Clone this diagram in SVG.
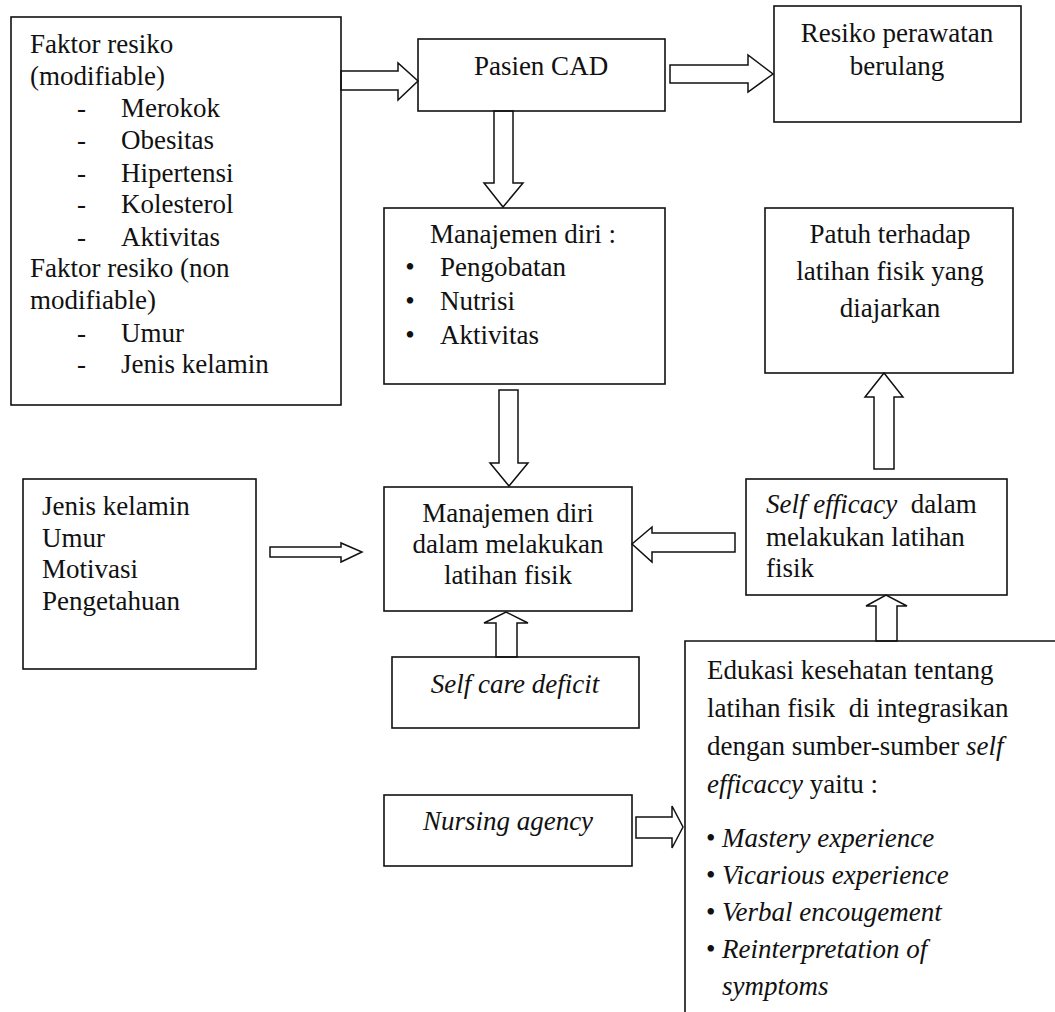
<svg xmlns="http://www.w3.org/2000/svg" width="1055" height="1012" viewBox="0 0 1055 1012">
<style>
.box{fill:none;stroke:#111;stroke-width:1.6}
.arr{fill:none;stroke:#111;stroke-width:1.5;stroke-linejoin:miter}
text{font-family:"Liberation Serif","Times New Roman",serif;font-size:27px;fill:#111}
.c{text-anchor:middle}
.i{font-style:italic}
</style>
<rect x="0" y="0" width="1055" height="1012" fill="#fff"/>
<g id="connectors">
<polygon class="arr" points="341,71 398,71 398,63 418,81 398,100 398,90 341,90"/>
<polygon class="arr" points="670,65 748,65 748,55 773,74 748,92 748,83 670,83"/>
<polygon class="arr" points="494,111 513,111 513,183 523,183 503,207 484,183 494,183"/>
<polygon class="arr" points="499,390 518,390 518,463 528,463 509,486 490,463 499,463"/>
<polygon class="arr" points="496,657 496,623 484,623 506,612 528,623 517,623 517,657"/>
<polygon class="arr" points="735,533 652,533 652,527 632,544 652,562 652,552 735,552"/>
<polygon class="arr" points="874,469 874,397 865,397 884,373 903,397 894,397 894,469"/>
<polygon class="arr" points="876,641 876,606 866,606 886,595 907,606 897,606 897,641"/>
<polygon class="arr" points="270,547 341,547 341,543 362,552 341,562 341,557 270,557"/>
<polygon class="arr" points="636,817 672,817 672,806 683,827 672,848 672,838 636,838"/>
</g>
<g id="faktor">
<rect class="box" x="11" y="17" width="330" height="388"/>
<text x="30" y="53">Faktor resiko</text>
<text x="30" y="85">(modifiable)</text>
<text x="77" y="117">-</text><text x="121" y="117">Merokok</text>
<text x="77" y="149">-</text><text x="121" y="149">Obesitas</text>
<text x="77" y="182">-</text><text x="121" y="182">Hipertensi</text>
<text x="77" y="213">-</text><text x="121" y="213">Kolesterol</text>
<text x="77" y="246">-</text><text x="121" y="246">Aktivitas</text>
<text x="30" y="277">Faktor resiko (non</text>
<text x="30" y="309">modifiable)</text>
<text x="77" y="342">-</text><text x="121" y="342">Umur</text>
<text x="77" y="373">-</text><text x="121" y="373">Jenis kelamin</text>
</g>
<g id="pasien">
<rect class="box" x="418" y="39" width="247" height="72"/>
<text class="c" x="541" y="75">Pasien CAD</text>
</g>
<g id="resiko">
<rect class="box" x="774" y="6" width="247" height="116"/>
<text class="c" x="897" y="42">Resiko perawatan</text>
<text class="c" x="897" y="75">berulang</text>
</g>
<g id="manajemen">
<rect class="box" x="384" y="208" width="281" height="176"/>
<text x="430" y="243">Manajemen diri :</text>
<text class="c" x="410" y="276">•</text><text x="440" y="276">Pengobatan</text>
<text class="c" x="410" y="310">•</text><text x="440" y="310">Nutrisi</text>
<text class="c" x="410" y="344">•</text><text x="440" y="344">Aktivitas</text>
</g>
<g id="patuh">
<rect class="box" x="765" y="208" width="248" height="165"/>
<text class="c" x="890" y="243">Patuh terhadap</text>
<text class="c" x="890" y="280">latihan fisik yang</text>
<text class="c" x="890" y="317">diajarkan</text>
</g>
<g id="faktor-lain">
<rect class="box" x="23" y="479" width="233" height="190"/>
<text x="42" y="515">Jenis kelamin</text>
<text x="42" y="547">Umur</text>
<text x="42" y="578">Motivasi</text>
<text x="42" y="610">Pengetahuan</text>
</g>
<g id="latihan">
<rect class="box" x="384" y="487" width="248" height="124"/>
<text class="c" x="508" y="522">Manajemen diri</text>
<text class="c" x="508" y="553">dalam melakukan</text>
<text class="c" x="508" y="584">latihan fisik</text>
</g>
<g id="self-efficacy">
<rect class="box" x="746" y="479" width="261" height="116"/>
<text x="766" y="513"><tspan class="i">Self efficacy</tspan>&#160; dalam</text>
<text x="766" y="546">melakukan latihan</text>
<text x="766" y="577">fisik</text>
</g>
<g id="self-care">
<rect class="box" x="392" y="657" width="247" height="71"/>
<text class="c i" x="515" y="693">Self care deficit</text>
</g>
<g id="nursing">
<rect class="box" x="384" y="795" width="248" height="71"/>
<text class="c i" x="508" y="830">Nursing agency</text>
</g>
<g id="edukasi">
<path class="box" d="M1055,641 H685 V1012"/>
<text x="707" y="679">Edukasi kesehatan tentang</text>
<text x="707" y="717">latihan fisik&#160; di integrasikan</text>
<text x="707" y="755">dengan sumber-sumber <tspan class="i">self</tspan></text>
<text x="707" y="793"><tspan class="i">efficaccy</tspan> yaitu :</text>
<text x="706" y="847">•</text><text class="i" x="722" y="847">Mastery experience</text>
<text x="706" y="884">•</text><text class="i" x="722" y="884">Vicarious experience</text>
<text x="706" y="921">•</text><text class="i" x="722" y="921">Verbal encougement</text>
<text x="706" y="958">•</text><text class="i" x="722" y="958">Reinterpretation of</text>
<text class="i" x="722" y="995">symptoms</text>
</g>
</svg>
